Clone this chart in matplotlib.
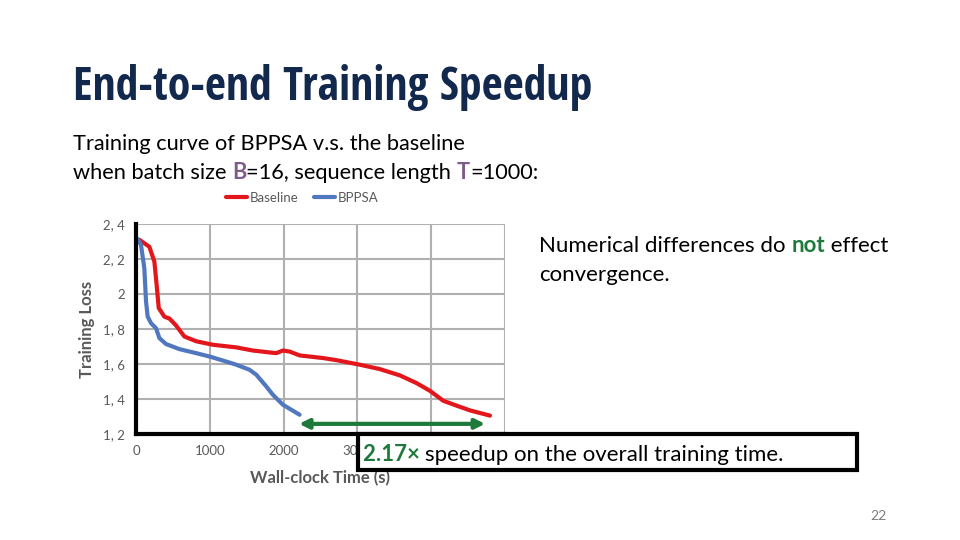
import numpy as np
import matplotlib
matplotlib.use("Agg")
import matplotlib.pyplot as plt
from matplotlib.patches import Rectangle

plt.rcParams['font.family'] = ['Lato', 'DejaVu Sans']

# curves
base_t = [45, 181, 249, 280, 308, 385, 452, 543, 656, 815, 1040, 1358, 1584, 1810, 1900,
          1991, 2082, 2217, 2534, 2715, 3032, 3303, 3575, 3801, 3982, 4163, 4344, 4525, 4797]
base_loss = [2.31, 2.27, 2.185, 2.05, 1.92, 1.87, 1.86, 1.82, 1.757, 1.73, 1.71, 1.695, 1.677,
             1.666, 1.662, 1.677, 1.671, 1.649, 1.634, 1.622, 1.596, 1.571, 1.535, 1.491,
             1.447, 1.39, 1.362, 1.335, 1.305]
bppsa_t = [23, 68, 113, 136, 158, 204, 271, 317, 407, 588, 815, 995, 1177, 1358, 1538,
           1629, 1765, 1855, 1991, 2217]
bppsa_loss = [2.314, 2.28, 2.147, 1.957, 1.871, 1.833, 1.805, 1.748, 1.714, 1.685, 1.662,
              1.643, 1.62, 1.596, 1.567, 1.539, 1.472, 1.424, 1.367, 1.31]
xticks = [0, 1000, 2000, 3000, 4000, 5000]
# 4000 and 5000 sit under the speedup box on the slide
xtick_labels = ["0", "1000", "2000", "3000", "", ""]
yticks = [1.2, 1.4, 1.6, 1.8, 2.0, 2.2, 2.4]
ytick_labels = ["1, 2", "1, 4", "1, 6", "1, 8", "2", "2, 2", "2, 4"]
arrow_from, arrow_to, arrow_y = 2210, 4730, 1.258

NAVY = "#12294d"
PURPLE = "#7e5c8a"
GREEN = "#1d7a3a"
RED = "#e3161c"
BLUE = "#5178bf"
GRAY = "#595959"

fig = plt.figure(figsize=(9.6, 5.4), dpi=100)
ax = fig.add_axes([136/960, 1-434/540, (505-136)/960, (434-224)/540])

ax.plot(base_t, base_loss, color=RED, lw=3, label="Baseline", solid_capstyle="round")
ax.plot(bppsa_t, bppsa_loss, color=BLUE, lw=3, label="BPPSA", solid_capstyle="round")
ax.set_xlim(0, 5000)
ax.set_ylim(1.2, 2.4)
ax.set_xticks(xticks)
ax.set_xticklabels(xtick_labels)
ax.set_yticks(yticks)
ax.set_yticklabels(ytick_labels)
ax.grid(True, color="#b0b0b0", lw=1.5)
ax.set_axisbelow(True)
for s in ["top", "right"]:
    ax.spines[s].set_visible(False)
for s in ["left", "bottom"]:
    ax.spines[s].set_color("black")
    ax.spines[s].set_linewidth(3)
ax.tick_params(length=0, labelsize=9.5, colors=GRAY, pad=8)
ax.set_xlabel("Wall-clock Time (s)", fontsize=12, fontweight="bold", color=GRAY, labelpad=9)
ax.set_ylabel("Training Loss", fontsize=12, fontweight="bold", color=GRAY, labelpad=6)
ax.legend(loc="lower center", bbox_to_anchor=(0.45, 1.04), ncol=2, frameon=False,
          fontsize=9.5, labelcolor=GRAY, handlelength=1.6, handletextpad=0.2, columnspacing=1.2)

ax.annotate("", xy=(arrow_to, arrow_y), xytext=(arrow_from, arrow_y),
            arrowprops=dict(arrowstyle="<|-|>", color=GREEN, lw=3, mutation_scale=14,
                            shrinkA=0, shrinkB=0))

renderer = fig.canvas.get_renderer()


def runs(x, y, parts, size, z=3):
    # draw coloured text pieces one after another, x,y in pixels
    for txt, col, wt in parts:
        t = fig.text(x/960, 1-y/540, txt, color=col, fontsize=size, fontweight=wt,
                     va="baseline", ha="left", zorder=z)
        x += t.get_window_extent(renderer).width


fig.text(73/960, 1-100/540, "End-to-end Training Speedup", fontsize=33, color=NAVY,
         va="baseline", fontweight="bold", family=["Open Sans Condensed", "Lato", "DejaVu Sans"])
runs(73, 150, [("Training curve of BPPSA v.s. the baseline", "black", "normal")], 15.7)
runs(73, 179, [("when batch size ", "black", "normal"), ("B", PURPLE, "bold"),
               ("=16, sequence length ", "black", "normal"), ("T", PURPLE, "bold"),
               ("=1000:", "black", "normal")], 15.7)
runs(539, 252, [("Numerical differences do ", "black", "normal"), ("not", GREEN, "bold"),
                (" effect", "black", "normal")], 16)
runs(539, 281, [("convergence.", "black", "normal")], 16)

fig.patches.append(Rectangle((358/960, 1-470/540), 499/960, 36/540, transform=fig.transFigure,
                             facecolor="white", edgecolor="black", lw=3, zorder=5))
runs(363, 461, [("2.17× ", GREEN, "bold"),
                ("speedup on the overall training time.", "black", "normal")], 16, z=6)

fig.text(887/960, 1-520/540, "22", fontsize=10, color="#7f7f7f", ha="right", va="baseline")

fig.savefig("out.png", dpi=100)
